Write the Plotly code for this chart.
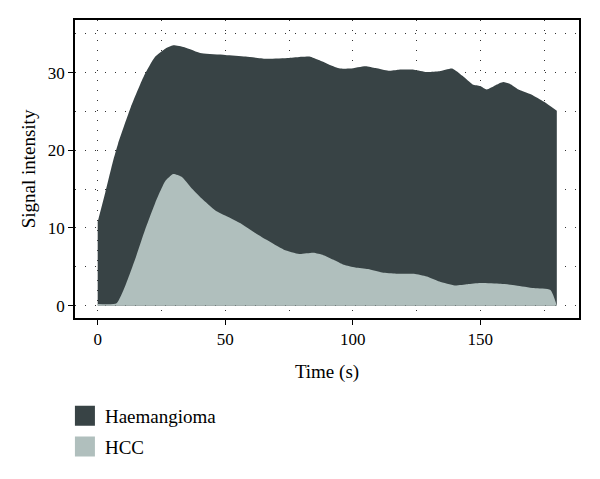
import plotly.graph_objects as go

haem_t = [0, 3, 6, 8, 13, 18, 22.5, 26.5, 29.6, 34, 40.8, 50, 58, 66, 75, 80, 83, 87, 91, 95, 99,
          105, 109, 114, 118, 124, 129, 134, 139, 143, 147, 150, 152.5, 156, 159, 162, 165, 170, 175, 180]
haem_v = [10.8, 14.6, 18.6, 20.9, 25.6, 29.5, 32.05, 33.1, 33.55, 33.3, 32.5, 32.3, 32.1,
          31.8, 31.9, 32.05, 32.1, 31.6, 31.0, 30.55, 30.55, 30.85, 30.6, 30.25, 30.4, 30.4, 30.1,
          30.2, 30.55, 29.6, 28.5, 28.3, 27.85, 28.4, 28.8, 28.5, 27.85, 27.2, 26.25, 25.1]

hcc_t = [0, 7.4, 10.7, 14.6, 18.5, 22.5, 26.4, 29.6, 32.9, 36.9, 40.8, 46, 51, 56, 61, 66, 73, 79, 84.5,
         88.5, 92.5, 96.5, 101, 106, 111.5, 117, 124, 129, 134, 140, 145, 150, 158, 164, 171, 177.5, 180]
hcc_v = [0.2, 0.3, 2.45, 5.9, 9.7, 13.2, 16.0, 16.95, 16.6, 15.1, 13.8, 12.3, 11.45, 10.6, 9.5,
         8.5, 7.2, 6.65, 6.8, 6.5, 5.9, 5.25, 4.9, 4.7, 4.25, 4.1, 4.1, 3.75, 3.1, 2.6, 2.75, 2.9,
         2.8, 2.6, 2.25, 2.0, 0]

x_ticks = [0, 50, 100, 150]
y_ticks = [0, 10, 20, 30]

DARK = "#384345"
LIGHT = "#b0bfbd"
FONT = "Liberation Serif"
GRID = dict(gridcolor="#333333", gridwidth=1.2, griddash="1px,9px")

fig = go.Figure()
fig.add_trace(go.Scatter(x=haem_t, y=haem_v, name="Haemangioma", mode="lines", showlegend=False,
                         line=dict(color=DARK, width=0, shape="spline", smoothing=0.5),
                         fill="tozeroy", fillcolor=DARK))
fig.add_trace(go.Scatter(x=hcc_t, y=hcc_v, name="HCC", mode="lines", showlegend=False,
                         line=dict(color=LIGHT, width=0, shape="spline", smoothing=0.5),
                         fill="tozeroy", fillcolor=LIGHT))
# legend entries (square swatches)
for name, col in [("Haemangioma", DARK), ("HCC", LIGHT)]:
    fig.add_trace(go.Scatter(x=[None], y=[None], name=name, mode="markers", legendgroup=name,
                             marker=dict(symbol="square", size=16, color=col,
                                         line=dict(color=col, width=4))))

axis_common = dict(showline=True, linecolor="black", linewidth=1.5, mirror=True,
                   ticks="outside", ticklen=5, tickcolor="black", tickwidth=1.2,
                   showgrid=True, zeroline=False, automargin=False,
                   tickfont=dict(family=FONT, size=17, color="black"), **GRID)

fig.update_xaxes(range=[-8.9, 188.7], tickvals=x_ticks,
                 minor=dict(dtick=25, tick0=0, showgrid=True, ticks="", **GRID),
                 title=dict(text="Time (s)", font=dict(family=FONT, size=19, color="black"), standoff=17),
                 **axis_common)
fig.update_yaxes(range=[-1.6, 36.8], tickvals=y_ticks,
                 minor=dict(dtick=5, tick0=0, showgrid=True, ticks="", **GRID),
                 title=dict(text="Signal intensity", font=dict(family=FONT, size=19, color="black"), standoff=7),
                 **axis_common)

fig.update_layout(width=600, height=479, margin=dict(l=67, r=29, t=12, b=169, autoexpand=False),
                  plot_bgcolor="white", paper_bgcolor="white",
                  legend=dict(x=-0.02, y=-0.265, xanchor="left", yanchor="top",
                              font=dict(family=FONT, size=19, color="black"),
                              tracegroupgap=3, itemwidth=30, bgcolor="rgba(0,0,0,0)"),
                  showlegend=True)
fig.write_html("out.html")
